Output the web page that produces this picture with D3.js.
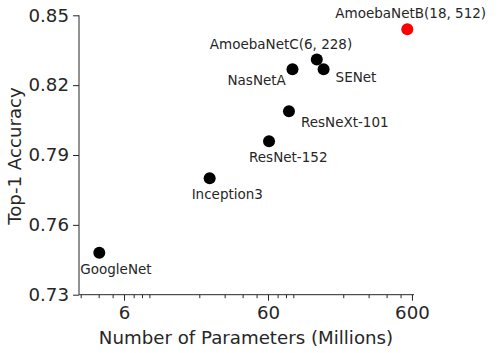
<!DOCTYPE html>
<html><head><meta charset="utf-8">
<script src="https://cdn.jsdelivr.net/npm/d3@7/dist/d3.min.js"></script>
<style>body{margin:0;background:#fff}svg{display:block}text{font-family:"DejaVu Sans",sans-serif;fill:#262626}</style>
</head><body>
<svg id="c" width="498" height="353"></svg>
<script>
const models = ["AmoebaNetB(18, 512)","AmoebaNetC(6, 228)","NasNetA","SENet","ResNeXt-101","ResNet-152","Inception3","GoogleNet"];
const params = [557, 131, 88.8, 146, 83.9, 61, 23.6, 4.04];
const accuracy = [0.844, 0.831, 0.8268, 0.8268, 0.8088, 0.7959, 0.780, 0.748];
const highlight = [true,false,false,false,false,false,false,false];
const xTicks = [6, 60, 600];
const xMinorTicks = [3,4,5,7,8,9,20,30,40,50,70,80,90,200,300,400,500];
const yTicks = [0.73, 0.76, 0.79, 0.82, 0.85];
// label offsets (styling): dx, dy from point
const labelOffsets = [[-72,-11],[-107,-11],[-65,16],[12,13],[12,16],[-20,21],[-18,21],[-19,21]];

const svg = d3.select("#c");
const m = {l:79, r:84, t:15.3, b:58.3};
const W = 498, H = 353;
const x = d3.scaleLog().domain([2.92, 620]).range([m.l, W - m.r]);
const y = d3.scaleLinear().domain([0.73, 0.85]).range([H - m.b, m.t]);

const gx = svg.append("g").attr("transform", `translate(0,${H - m.b})`);
gx.call(d3.axisBottom(x).tickValues(xTicks).tickFormat(d3.format("d")).tickSize(6).tickPadding(5));
gx.append("g").call(d3.axisBottom(x).tickValues(xMinorTicks).tickFormat("").tickSize(3.5))
  .select(".domain").remove();
gx.select(".domain").attr("d", `M${m.l},0H${x.range()[1]}`);

const gy = svg.append("g").attr("transform", `translate(${m.l},0)`);
gy.call(d3.axisLeft(y).tickValues(yTicks).tickFormat(d3.format(".2f")).tickSize(6).tickPadding(4));
gy.select(".domain").attr("d", `M0,${y.range()[0]}V${y.range()[1]}`);

svg.selectAll(".tick text").style("font-size","18.2px").style("font-family","DejaVu Sans").attr("fill","#262626");
svg.selectAll(".tick line").attr("stroke","#262626");
svg.selectAll(".domain").attr("stroke","#262626");

svg.append("text").attr("x", (m.l + x.range()[1]) / 2 - 0.5).attr("y", 344)
  .attr("text-anchor","middle").style("font-size","18.2px").text("Number of Parameters (Millions)");
svg.append("text").attr("transform", `translate(21,${(y.range()[0]+y.range()[1])/2 + 1}) rotate(-90)`)
  .attr("text-anchor","middle").style("font-size","18.2px").text("Top-1 Accuracy");

const idx = d3.range(models.length);
svg.append("g").selectAll("circle").data(idx).join("circle")
  .attr("cx", i => x(params[i])).attr("cy", i => y(accuracy[i])).attr("r", 6)
  .attr("fill", i => highlight[i] ? "#ff0000" : "#000");

svg.append("g").selectAll("text").data(idx).join("text")
  .attr("x", i => x(params[i]) + labelOffsets[i][0])
  .attr("y", i => y(accuracy[i]) + labelOffsets[i][1])
  .style("font-size","13.5px").text(i => models[i]);
</script>
</body></html>
